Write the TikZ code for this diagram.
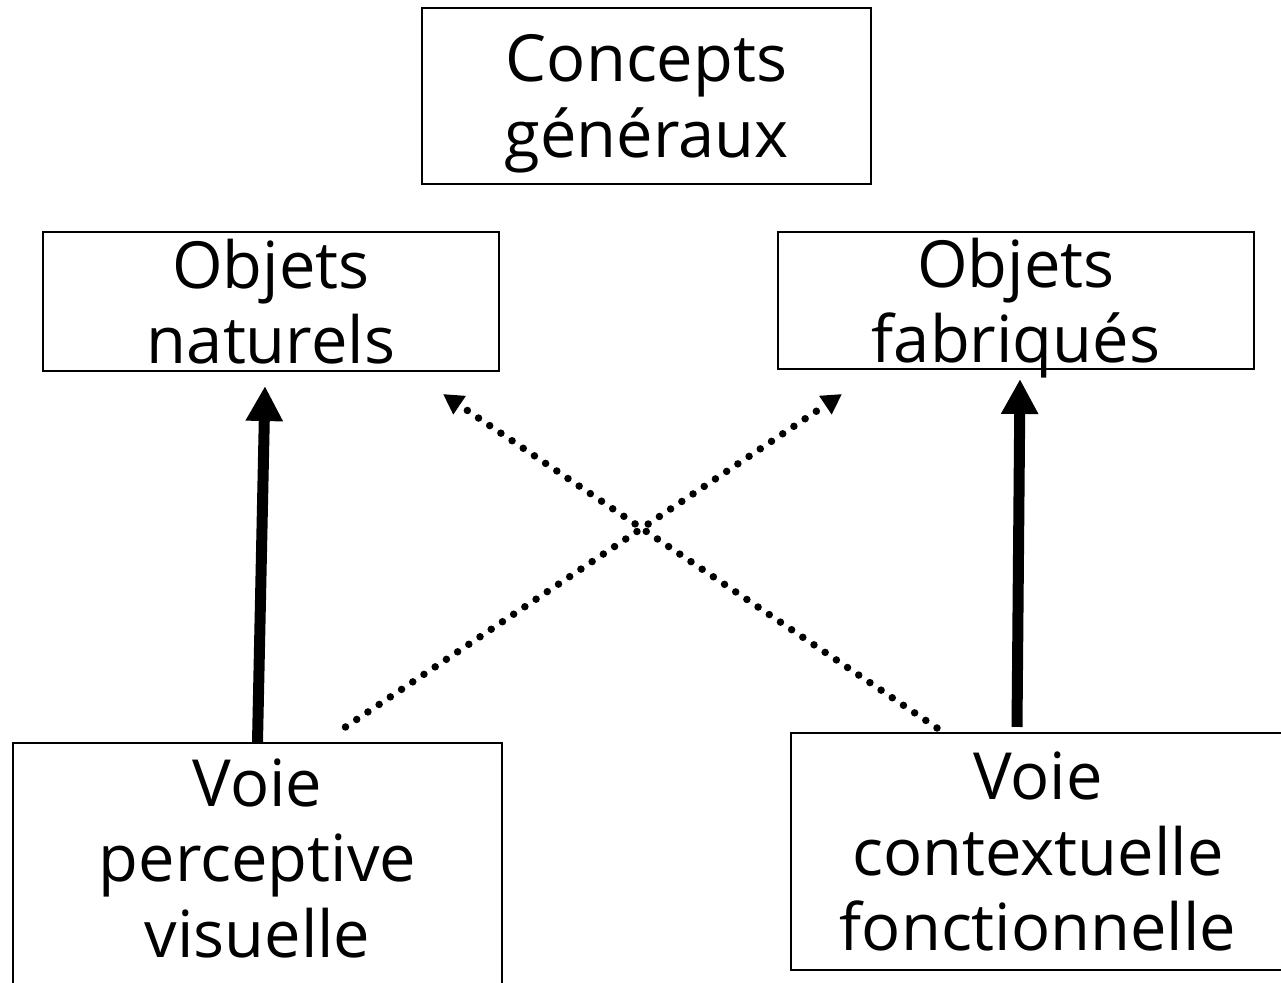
\documentclass[tikz,border=0pt]{standalone}
\usepackage{fontspec}
\setmainfont{Open Sans}
\usetikzlibrary{calc,positioning,arrows.meta}
\begin{document}
\begin{tikzpicture}[x=0.02cm,y=-0.02cm]
      \tikzstyle{cat}=[rectangle,draw,line width=1.2pt,align=center,inner sep=0pt,text depth=0pt,font=\fontsize{37}{43}\selectfont]
      \tikzstyle{strong}=[-{Triangle[width=0.7cm,length=0.7cm]},line width=0.22cm]
      \tikzstyle{weak}=[-{Triangle[width=0.42cm,length=0.4cm]},line width=0.15cm,line cap=round,dash pattern=on 0pt off 0.27cm]
      \useasboundingbox (0,0) rectangle (1281,983);
      \node[cat,minimum width=8.98cm,minimum height=3.52cm] (concepts) at (646.5,96) {Concepts\\généraux};
      \node[cat,minimum width=9.12cm,minimum height=2.78cm] (nat) at (271,301.5) {Objets\\naturels};
      \node[cat,minimum width=9.52cm,minimum height=2.74cm] (fab) at (1016,300.5) {Objets\\fabriqués};
      \node[cat,minimum width=9.78cm,minimum height=5.08cm,text depth=0.48cm] (perc) at (257.5,870) {Voie\\perceptive\\visuelle};
      \node[cat,minimum width=9.88cm,minimum height=4.74cm] (ctx) at (1038,851.5) {Voie\\contextuelle\\fonctionnelle};

      \coordinate (pv) at ($(perc.north)+(88,-15)$);
      \coordinate (cf) at ($(ctx.north west)+(147,-4)$);

      \draw[strong] (perc.north) -- ($(nat.south)+(-6,14)$);
      \draw[strong] ($(ctx.north)+(-21,-5)$) -- ($(fab.south)+(4,9)$);
      \draw[weak] (pv) -- ($(fab.south west)+(65,24)$);
      \draw[weak] (cf) -- ($(nat.south east)+(-57,22)$);
    \end{tikzpicture}
\end{document}
